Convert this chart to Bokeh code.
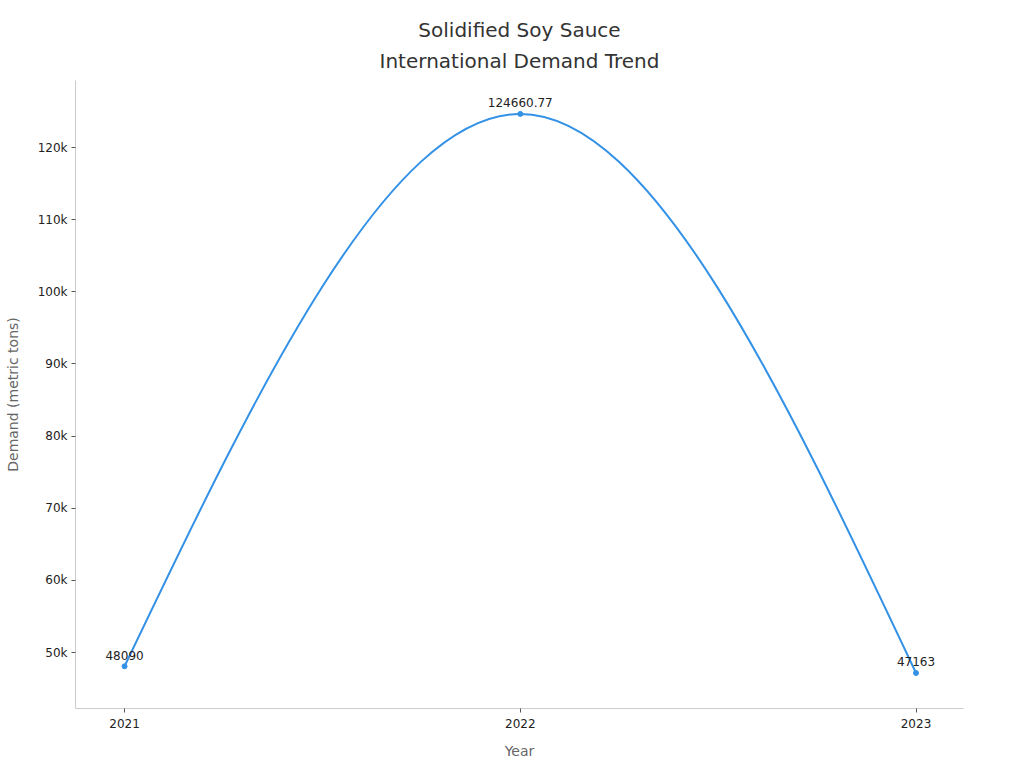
import numpy as np
from bokeh.plotting import figure
from bokeh.models import Range1d, FixedTicker, CustomJSTickFormatter, Title, ColumnDataSource
from bokeh.core.properties import value
from bokeh.embed import file_html
from bokeh.resources import INLINE

years = [2021, 2022, 2023]
demand = [48090, 124660.77, 47163]
labels = ["48090", "124660.77", "47163"]
y_ticks = [50000, 60000, 70000, 80000, 90000, 100000, 110000, 120000]
title_lines = ["Solidified Soy Sauce", "International Demand Trend"]

LINE = "#3391e6"

p = figure(frame_width=888, frame_height=628, output_backend="svg", toolbar_location=None,
           x_range=Range1d(2020.876, 2023.12), y_range=Range1d(42240, 129290),
           min_border_left=75, min_border_right=53, min_border_top=80, min_border_bottom=52)
p.title = None
# added nearest-first
p.add_layout(Title(text=title_lines[1], align="center", text_font="DejaVu Sans",
                   text_font_size="20px", text_font_style="normal", text_color="#333333",
                   standoff=16), "above")
p.add_layout(Title(text=title_lines[0], align="center", text_font="DejaVu Sans",
                   text_font_size="20px", text_font_style="normal", text_color="#333333",
                   standoff=-6), "above")

p.xgrid.visible = False
p.ygrid.visible = False
p.outline_line_color = None

# monotone cubic (d3 curveMonotoneX-like) from data
x = np.array(years, dtype=float)
y = np.array(demand, dtype=float)
h = np.diff(x)
s = np.diff(y) / h
n = len(x)
m = np.zeros(n)
for i in range(1, n - 1):
    if s[i - 1] * s[i] <= 0:
        m[i] = 0.0
    else:
        p0 = (s[i - 1] * h[i] + s[i] * h[i - 1]) / (h[i - 1] + h[i])
        m[i] = (np.sign(s[i - 1]) + np.sign(s[i])) * min(abs(s[i - 1]), abs(s[i]), 0.5 * abs(p0))
m[0] = (3 * s[0] - m[1]) / 2
m[-1] = (3 * s[-1] - m[-2]) / 2

src = ColumnDataSource(dict(
    x0=x[:-1], y0=y[:-1], x1=x[1:], y1=y[1:],
    cx0=x[:-1] + h / 3, cy0=y[:-1] + m[:-1] * h / 3,
    cx1=x[1:] - h / 3, cy1=y[1:] - m[1:] * h / 3,
))
p.bezier(x0="x0", y0="y0", x1="x1", y1="y1", cx0="cx0", cy0="cy0", cx1="cx1", cy1="cy1",
         source=src, line_color=LINE, line_width=2)

p.scatter(years, demand, size=5, color=LINE)
p.text(years, demand, text=labels, text_align="center", text_baseline="middle", y_offset=-11,
       text_font=value("DejaVu Sans"), text_font_size="12px", text_color="#222222")

for ax in (p.xaxis[0], p.yaxis[0]):
    ax.axis_line_color = "#cccccc"
    ax.axis_line_width = 1
    ax.major_tick_line_color = "#555555"
    ax.major_tick_in = 0
    ax.major_tick_out = 4
    ax.minor_tick_line_color = None
    ax.major_label_text_font = "DejaVu Sans"
    ax.major_label_text_font_size = "12px"
    ax.major_label_text_color = "#222222"
    ax.axis_label_text_font = "DejaVu Sans"
    ax.axis_label_text_font_size = "14px"
    ax.axis_label_text_font_style = "normal"
    ax.axis_label_text_color = "#666666"

p.xaxis.ticker = FixedTicker(ticks=years)
p.xaxis.major_label_standoff = 6
p.xaxis.axis_label = "Year"
p.xaxis.axis_label_standoff = 12
p.yaxis.ticker = FixedTicker(ticks=y_ticks)
p.yaxis.formatter = CustomJSTickFormatter(code="return (tick/1000) + 'k';")
p.yaxis.major_label_standoff = 4
p.yaxis.axis_label = "Demand (metric tons)"
p.yaxis.axis_label_standoff = 14

open("out.html", "w").write(file_html(p, INLINE))
